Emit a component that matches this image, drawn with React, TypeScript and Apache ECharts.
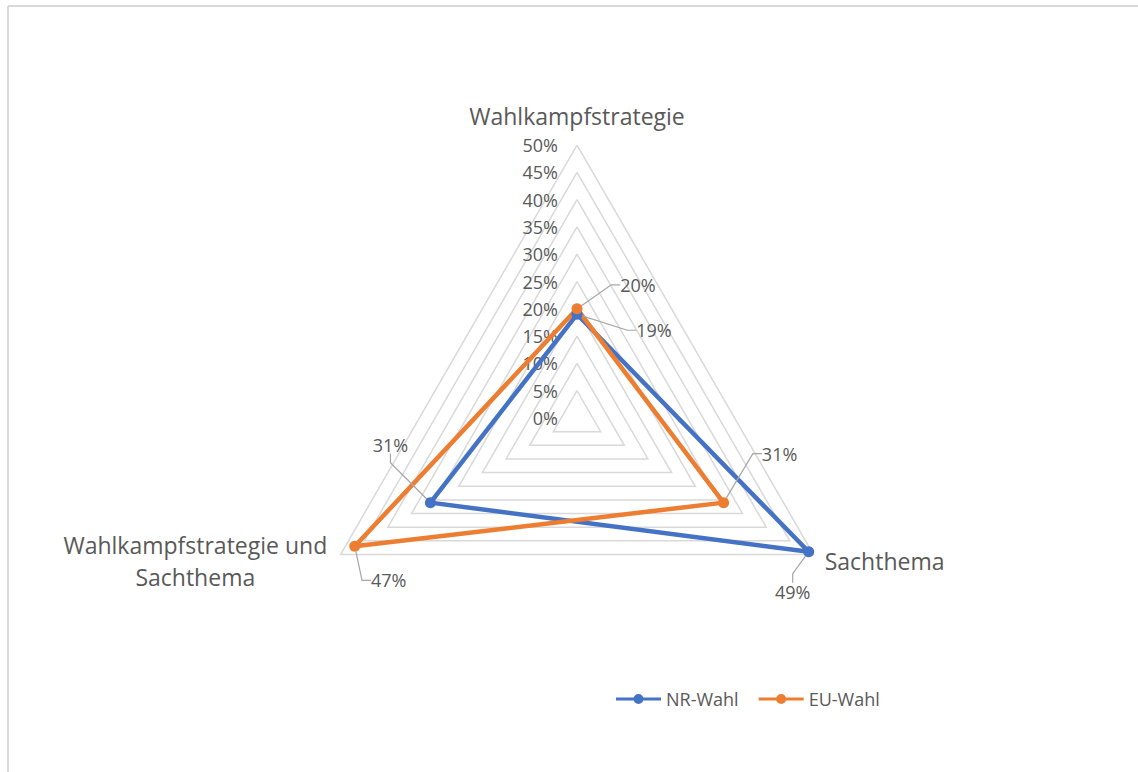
import React, { useEffect, useRef } from "react";
import * as echarts from "echarts";

// Radar categories (counter-clockwise from the top)
const categories = [
  "Wahlkampfstrategie",
  "Wahlkampfstrategie und Sachthema",
  "Sachthema",
];

const seriesNames = ["NR-Wahl", "EU-Wahl"];
const nrWahl = [0.19, 0.31, 0.49];
const euWahl = [0.2, 0.47, 0.31];

// Tick labels of the value axis
const tickValues = [0, 0.05, 0.1, 0.15, 0.2, 0.25, 0.3, 0.35, 0.4, 0.45, 0.5];

const COLORS = ["#4472c4", "#ed7d31"];
const TEXT = "#595959";
const GRID = "#d9d9d9";
const FONT = "'Open Sans', 'Noto Sans', sans-serif";

const CENTER = [577, 418];
const RADIUS = 273;

// Callout offsets of the data labels: [series][vertex] -> [dx, dy]
const LABEL_OFFSETS = [
  [
    [77, 16],
    [-40, -58],
    [-16, 40],
  ],
  [
    [61, -24],
    [34, 34],
    [56, -49],
  ],
];

// Legend marker: a line with a round marker in the middle
const LEGEND_ICON =
  "path://M0,3.5H45V6.5H0Z M17.5,5A5,5 0 1,1 27.5,5A5,5 0 1,1 17.5,5Z";

const pct = (v: number) => `${Math.round(v * 100)}%`;

export default function App() {
  const ref = useRef<HTMLDivElement>(null);

  useEffect(() => {
    document.body.style.margin = "0";
    const chart = echarts.init(ref.current!, null, { renderer: "svg" });

    const vertexOf = (rect: { x: number; y: number; width: number; height: number }) => {
      const cx = rect.x + rect.width / 2;
      const cy = rect.y + rect.height / 2;
      if (cy < CENTER[1] - 20) return 0;
      return cx < CENTER[0] ? 1 : 2;
    };

    const nameStyle = { fontSize: 23, color: TEXT, fontFamily: FONT };

    chart.setOption({
      animation: false,
      backgroundColor: "#ffffff",
      textStyle: { fontFamily: FONT },
      graphic: [
        {
          type: "line",
          shape: { x1: 8, y1: 6, x2: 1138, y2: 6 },
          style: { stroke: GRID, lineWidth: 2 },
        },
        {
          type: "line",
          shape: { x1: 8, y1: 6, x2: 8, y2: 772 },
          style: { stroke: GRID, lineWidth: 2 },
        },
      ],
      legend: {
        left: 611,
        top: 685,
        icon: LEGEND_ICON,
        itemWidth: 45,
        itemHeight: 10,
        itemGap: 20,
        data: seriesNames,
        textStyle: { color: TEXT, fontSize: 18, fontFamily: FONT },
      },
      // Cartesian axis that carries the percentage ticks along the upward radar axis
      grid: {
        left: CENTER[0],
        top: CENTER[1] - RADIUS,
        height: RADIUS,
        width: 10,
        show: false,
      },
      xAxis: { type: "value", show: false },
      yAxis: {
        type: "value",
        min: tickValues[0],
        max: tickValues[tickValues.length - 1],
        interval: tickValues[1] - tickValues[0],
        axisLine: { show: false },
        axisTick: { show: false },
        splitLine: { show: false },
        axisLabel: {
          margin: 19,
          color: TEXT,
          fontSize: 18,
          fontFamily: FONT,
          formatter: (v: number) => pct(v),
        },
      },
      radar: {
        center: CENTER,
        radius: RADIUS,
        startAngle: 90,
        splitNumber: tickValues.length - 1,
        shape: "polygon",
        indicator: categories.map((name) => ({
          name,
          min: tickValues[0],
          max: tickValues[tickValues.length - 1],
        })),
        nameGap: 13,
        axisName: {
          ...nameStyle,
          formatter: (name: string) => {
            const i = name.indexOf(" und ");
            if (name === categories[0]) return `{t|${name}}`;
            if (i < 0) return name;
            return `{c|${name.slice(0, i + 4)}}\n{c|${name.slice(i + 5)}}`;
          },
          rich: {
            t: { ...nameStyle, padding: [0, 0, 5, 0] },
            c: { ...nameStyle, width: 268, align: "center", lineHeight: 32 },
          },
        },
        axisLine: { show: false },
        axisTick: { show: false },
        axisLabel: { show: false },
        splitArea: { show: false },
        splitLine: { lineStyle: { color: GRID, width: 1.5 } },
      },
      series: [nrWahl, euWahl].map((values, si) => ({
        type: "radar",
        name: seriesNames[si],
        z: 3,
        symbol: "circle",
        symbolSize: 11,
        itemStyle: { color: COLORS[si] },
        lineStyle: { color: COLORS[si], width: 4.5 },
        label: {
          show: true,
          position: "inside",
          color: TEXT,
          fontSize: 18,
          fontFamily: FONT,
          padding: [3, 3],
          formatter: (p: any) => pct(Array.isArray(p.value) ? p.value[0] : p.value),
        },
        labelLine: {
          show: true,
          length2: 9,
          lineStyle: { color: "#a6a6a6", width: 1.2 },
        },
        labelLayout: (p: any) => {
          const [dx, dy] = LABEL_OFFSETS[p.seriesIndex][vertexOf(p.rect)];
          return { dx, dy };
        },
        data: [{ name: seriesNames[si], value: values }],
      })),
    });

    return () => chart.dispose();
  }, []);

  return <div ref={ref} style={{ width: 1138, height: 772 }} />;
}
